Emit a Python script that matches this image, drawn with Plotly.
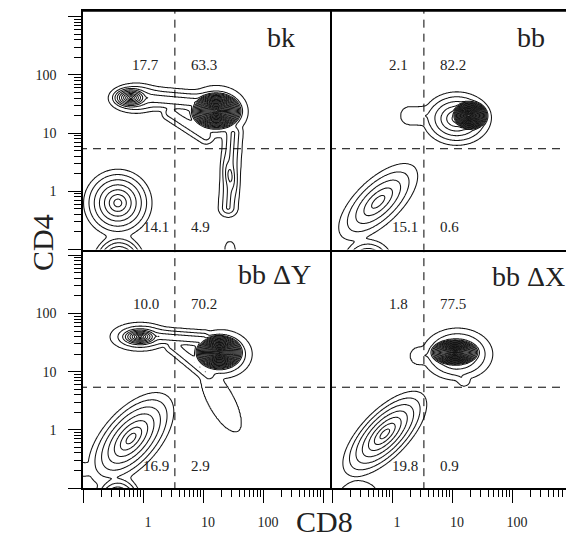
import numpy as np
import plotly.graph_objects as go

# ---------------- data ----------------
PANEL_NAMES = ["bk", "bb", "bb ΔY", "bb ΔX"]

# quadrant percentages: upper-left, upper-right, lower-left, lower-right
Q_BK = [17.7, 63.3, 14.1, 4.9]
Q_BB = [2.1, 82.2, 15.1, 0.6]
Q_DY = [10.0, 70.2, 16.9, 2.9]
Q_DX = [1.8, 77.5, 19.8, 0.9]

# quadrant gates (CD8, CD4 fluorescence)
GATE_CD8 = 3.4
GATE_CD4 = 5.4

# elliptical cell clusters: (log10 CD8 centre, log10 CD4 centre,
#   outer half-width major, outer half-width minor, angle deg, contour rings)
POP_BK = [
    (-0.20, 1.61, 0.34, 0.20, 0, 10),    # CD4 SP core
    (-0.12, 1.60, 0.45, 0.26, 0, 4),     # CD4 SP halo
    (1.22, 1.38, 0.45, 0.34, 0, 26),     # DP core
    (1.22, 1.37, 0.53, 0.45, 0, 5),      # DP halo
    (1.45, 0.27, 0.45, 0.15, -85, 4),    # CD8 SP
    (-0.42, -0.20, 0.57, 0.58, 0, 7),    # DN
    (-0.40, -1.30, 0.45, 0.55, 0, 9),    # low events
    (1.45, -1.00, 0.09, 0.14, 0, 1),     # small blip
]
POP_BB = [
    (1.28, 1.30, 0.33, 0.27, 0, 26),
    (1.08, 1.25, 0.57, 0.46, 0, 6),
    (-0.23, -0.18, 0.85, 0.38, 45, 5),
    (-0.40, -1.25, 0.42, 0.42, 0, 6),
]
POP_DY = [
    (-0.05, 1.60, 0.36, 0.17, 0, 10),
    (-0.05, 1.60, 0.50, 0.25, 0, 4),
    (1.27, 1.33, 0.42, 0.32, 0, 26),
    (1.30, 1.30, 0.52, 0.42, 0, 5),
    (1.30, 0.50, 0.60, 0.22, -62, 0.9),  # CD8 SP tail
    (-0.20, -0.15, 0.95, 0.48, 50, 7),
    (-0.42, -1.28, 0.40, 0.50, 0, 8),
    (-1.05, -0.68, 0.25, 0.12, 0, 1),
]
POP_DX = [
    (1.05, 1.33, 0.44, 0.25, 0, 24),
    (1.09, 1.30, 0.59, 0.45, 0, 5),
    (-0.12, -0.07, 0.93, 0.40, 47, 7),
    (-0.55, -1.20, 0.35, 0.32, 0, 2),
]

# elongated connecting streaks: (x start, y start, x end, y end, half-width, rings)
SEG_BK = [
    (-0.10, 1.62, 1.00, 1.52, 0.21, 3),    # CD4 -> DP bridge
    (0.45, 1.35, 1.05, 0.95, 0.14, 2),     # shoulder
    (1.50, 1.00, 1.42, -0.28, 0.17, 2.5),  # CD8 tail
]
SEG_BB = [
    (0.30, 1.30, 0.80, 1.30, 0.16, 0.9),
]
SEG_DY = [
    (0.10, 1.62, 1.00, 1.55, 0.17, 3),
    (0.50, 1.45, 1.10, 0.95, 0.14, 2),
]
SEG_DX = [
    (0.45, 1.27, 0.80, 1.30, 0.15, 0.9),
    (1.00, 1.10, 1.20, 0.85, 0.10, 0.9),
]

TICK_VALS = [0.1, 1, 10, 100, 1000]
TICK_TEXT = ["", "1", "10", "100", ""]
MINOR_VALS = [k * 10.0 ** e for e in range(-1, 3) for k in range(2, 10)]

PANELS = [
    (POP_BK, SEG_BK, Q_BK, "x", "y"),
    (POP_BB, SEG_BB, Q_BB, "x2", "y2"),
    (POP_DY, SEG_DY, Q_DY, "x3", "y3"),
    (POP_DX, SEG_DX, Q_DX, "x4", "y4"),
]

# ---------------- density grid ----------------
GX = np.linspace(-1.6, 3.4, 321)
GY = np.linspace(-1.9, 3.4, 341)
SHAPE_P = 0.9


def profile(d, n):
    d = d ** SHAPE_P
    return 10.0 ** np.where(d < 1, n * (1 - d), -6 * (d - 1))


def log_density(pops, segs):
    X, Y = np.meshgrid(GX, GY)
    tot = np.zeros_like(X)
    for mx, my, a, b, ang, n in pops:
        t = np.deg2rad(ang)
        dx, dy = X - mx, Y - my
        u = (dx * np.cos(t) + dy * np.sin(t)) / a
        v = (-dx * np.sin(t) + dy * np.cos(t)) / b
        tot += profile(np.sqrt(u * u + v * v), n)
    for x1, y1, x2, y2, w, n in segs:
        vx, vy = x2 - x1, y2 - y1
        s = np.clip(((X - x1) * vx + (Y - y1) * vy) / (vx * vx + vy * vy), 0, 1)
        d = np.hypot(X - (x1 + s * vx), Y - (y1 + s * vy)) / w
        tot += profile(d, n)
    return np.log10(tot + 1e-30)


FONT = "Liberation Serif"
fig = go.Figure()

for pops, segs, q, xa, ya in PANELS:
    fig.add_trace(go.Contour(
        x=10.0 ** GX, y=10.0 ** GY, z=log_density(pops, segs),
        xaxis=xa, yaxis=ya,
        contours=dict(start=0, end=40, size=1, coloring="lines"),
        colorscale=[[0, "#141414"], [1, "#141414"]], showscale=False,
        line=dict(width=1.05, smoothing=1), hoverinfo="skip",
    ))
    # gates
    fig.add_trace(go.Scatter(
        x=[GATE_CD8, GATE_CD8], y=[0.01, 1e5], mode="lines",
        line=dict(color="black", width=1, dash="8px,6px"),
        xaxis=xa, yaxis=ya, showlegend=False, hoverinfo="skip"))
    fig.add_trace(go.Scatter(
        x=[0.01, 1e5], y=[GATE_CD4, GATE_CD4], mode="lines",
        line=dict(color="black", width=1, dash="8px,6px"),
        xaxis=xa, yaxis=ya, showlegend=False, hoverinfo="skip"))

# quadrant numbers
annotations = []
gx = float(np.log10(GATE_CD8))
for pops, segs, q, xa, ya in PANELS:
    for val, xanchor, xshift, ylog in [
        (q[0], "right", -14, 2.17),
        (q[1], "left", 14, 2.17),
        (q[2], "right", -4, -0.62),
        (q[3], "left", 14, -0.62),
    ]:
        annotations.append(dict(
            x=gx, y=ylog, xref=xa, yref=ya, text=f"{val:.1f}",
            xanchor=xanchor, yanchor="middle", xshift=xshift, showarrow=False,
            font=dict(family=FONT, size=15, color="#222")))

# panel names
NAME_POS = [(0.86, 0.89), (0.888, 0.89), (0.924, 0.895), (0.971, 0.888)]
for name, (px, py), (_, _, _, xa, ya) in zip(PANEL_NAMES, NAME_POS, PANELS):
    annotations.append(dict(
        x=px, y=py, xref=f"{xa} domain", yref=f"{ya} domain", text=name,
        xanchor="right", yanchor="middle", showarrow=False,
        font=dict(family=FONT, size=28, color="#222")))

annotations.append(dict(x=-0.12, y=0.515, xref="paper", yref="paper", text="CD4",
                        textangle=-90, showarrow=False,
                        font=dict(family=FONT, size=30, color="#222")))
annotations.append(dict(x=0.491, y=-0.108, xref="paper", yref="paper", text="CD8",
                        showarrow=False, font=dict(family=FONT, size=30, color="#222")))

D = 249 / 491
tickfont = dict(family=FONT, size=14, color="#222")
base = dict(type="log", showgrid=False, zeroline=False, showline=True,
            linecolor="black", linewidth=1.5)
ticked = dict(ticks="outside", ticklen=13, tickwidth=1.2, tickcolor="black",
              tickmode="array", tickvals=TICK_VALS, ticktext=TICK_TEXT,
              tickfont=tickfont,
              minor=dict(tickmode="array", tickvals=MINOR_VALS, ticks="outside",
                         ticklen=7, tickwidth=1, tickcolor="black", showgrid=False))
plain = dict(ticks="", showticklabels=False)

# page body has an 8 px margin: plot area placed at about x 83..574, y 11..488 on screen
fig.update_layout(
    width=566, height=548,
    margin=dict(l=75, r=0, t=3, b=68, pad=0),
    paper_bgcolor="white", plot_bgcolor="white",
    showlegend=False,
    xaxis=dict(**base, **plain, domain=[0, D], range=[-1, 3.15], anchor="y", mirror=True),
    xaxis2=dict(**base, **plain, domain=[D, 1], range=[-1, 3.033], anchor="y2", mirror=True),
    xaxis3=dict(**base, **ticked, domain=[0, D], range=[-1, 3.15], anchor="y3",
                ticklabelstandoff=7, ticklabelshift=5),
    xaxis4=dict(**base, **ticked, domain=[D, 1], range=[-1, 3.033], anchor="y4",
                ticklabelstandoff=7, ticklabelshift=5),
    yaxis=dict(**base, **ticked, domain=[0.5, 1], range=[-1, 3.1], anchor="x",
               ticklabelstandoff=9),
    yaxis2=dict(**base, **plain, domain=[0.5, 1], range=[-1, 3.1], anchor="x2"),
    yaxis3=dict(**base, **ticked, domain=[0, 0.5], range=[-1, 3.1], anchor="x3",
                ticklabelstandoff=9),
    yaxis4=dict(**base, **plain, domain=[0, 0.5], range=[-1, 3.1], anchor="x4"),
    annotations=annotations,
    shapes=[dict(type="line", xref="paper", yref="paper", x0=0, x1=1, y0=1, y1=1,
                 line=dict(color="black", width=1.5))],
)

fig.write_html("out.html")
